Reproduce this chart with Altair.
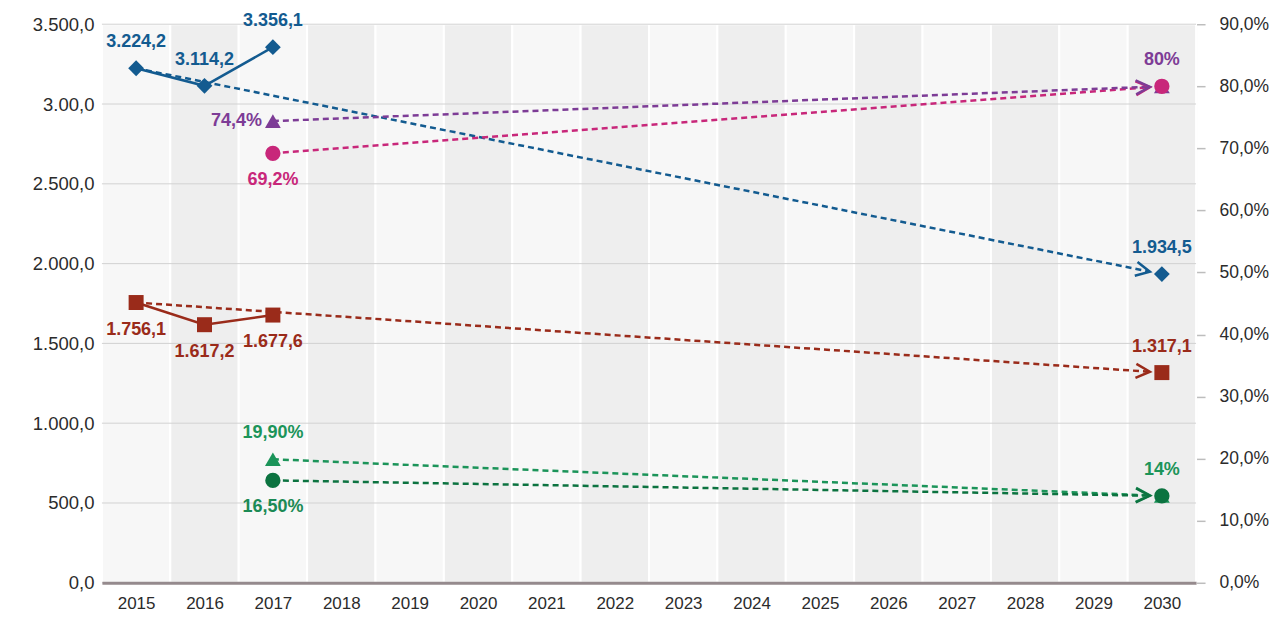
import math
import altair as alt
import pandas as pd

# ---------------- data ----------------
years = list(range(2015, 2031))
left_ticks = [0, 500, 1000, 1500, 2000, 2500, 3000, 3500]
right_ticks = [0.0, 0.1, 0.2, 0.3, 0.4, 0.5, 0.6, 0.7, 0.8, 0.9]

# left axis series (absolute values)
blue_years = [2015, 2016, 2017]
blue_values = [3224.2, 3114.2, 3356.1]
blue_labels = ["3.224,2", "3.114,2", "3.356,1"]
blue_target_year = 2030
blue_target_value = 1934.5
blue_target_label = "1.934,5"

red_years = [2015, 2016, 2017]
red_values = [1756.1, 1617.2, 1677.6]
red_labels = ["1.756,1", "1.617,2", "1.677,6"]
red_target_year = 2030
red_target_value = 1317.1
red_target_label = "1.317,1"

# right axis series (shares)
share_names = ["pink", "purple", "green_tri", "green_circ"]
share_start_year = [2017, 2017, 2017, 2017]
share_start_value = [0.692, 0.744, 0.199, 0.165]
share_start_label = ["69,2%", "74,4%", "19,90%", "16,50%"]
share_target_year = [2030, 2030, 2030, 2030]
share_target_value = [0.80, 0.80, 0.14, 0.14]
share_target_label = ["", "80%", "14%", ""]

# ---------------- styles ----------------
W, H = 1095, 559
LEFT_MAX, RIGHT_MAX = 3500, 0.9
FONT = "Liberation Sans"
AXIS_TEXT = "#2b2b2b"
COLOR = {
    "blue": "#135b90",
    "red": "#9a2b1a",
    "purple": "#7d3c96",
    "pink": "#c8277a",
    "green_tri": "#1b9459",
    "green_circ": "#0c7340",
}
LABEL_COLOR = {
    "blue": "#135b90",
    "red": "#9a2b1a",
    "purple": "#7d3c96",
    "pink": "#c8277a",
    "green_tri": "#1b9459",
    "green_circ": "#1b8a55",
}
SHAPE = {
    "blue": "diamond",
    "red": "square",
    "purple": "triangle-up",
    "pink": "circle",
    "green_tri": "triangle-up",
    "green_circ": "circle",
}
SIZE = {"diamond": 250, "square": 225, "triangle-up": 250, "circle": 235}
MARK_ORDER = {"diamond": 0, "square": 0, "triangle-up": 0, "circle": 1}
LABEL_POS_LEFT = {("blue", "a"): "above", ("blue", "t"): "above",
                  ("red", "a"): "below", ("red", "t"): "above"}
LABEL_POS_RIGHT = {("pink", "s"): "below", ("purple", "s"): "left",
                   ("green_tri", "s"): "above", ("green_circ", "s"): "below",
                   ("purple", "t"): "above", ("green_tri", "t"): "above"}
ARROW_BACK_PX = 12
PX_PER_YEAR = W / 16.0


def tip_and_angle(y0, v0, y1, v1, vmax):
    """arrow tip a little before the target, along the projection line"""
    back = ARROW_BACK_PX / PX_PER_YEAR
    slope = (v1 - v0) / (y1 - y0)
    tip_year = y1 - back
    tip_val = v1 - slope * back
    dx = (y1 - y0) * PX_PER_YEAR
    dy = -(v1 - v0) * H / vmax
    ang = math.degrees(math.atan2(dy, dx)) % 360
    return tip_year, tip_val, ang


# ---------------- frames ----------------
bands = pd.DataFrame({
    "x0": [y - 0.5 for y in years],
    "x1": [y + 0.5 for y in years],
    "fill": ["#f7f7f7" if i % 2 == 0 else "#eeeeee" for i in range(len(years))],
})
grid = pd.DataFrame({"v": left_ticks})

solid_left = pd.DataFrame(
    [{"s": "blue", "year": y, "v": v, "c": COLOR["blue"]} for y, v in zip(blue_years, blue_values)]
    + [{"s": "red", "year": y, "v": v, "c": COLOR["red"]} for y, v in zip(red_years, red_values)]
)

dash_left_rows, arrow_left_rows = [], []
for s, ys, vs, ty, tv in [("blue", blue_years, blue_values, blue_target_year, blue_target_value),
                          ("red", red_years, red_values, red_target_year, red_target_value)]:
    tyr, tvl, ang = tip_and_angle(ys[0], vs[0], ty, tv, LEFT_MAX)
    dash_left_rows += [{"s": s, "year": ys[0], "v": vs[0], "c": COLOR[s]},
                       {"s": s, "year": tyr, "v": tvl, "c": COLOR[s]}]
    arrow_left_rows.append({"s": s, "year": tyr, "v": tvl, "c": COLOR[s], "ang": ang})
dash_left = pd.DataFrame(dash_left_rows)
arrow_left = pd.DataFrame(arrow_left_rows)

pts_left_rows, lab_left_rows = [], []
for s, ys, vs, ls, ty, tv, tl in [("blue", blue_years, blue_values, blue_labels, blue_target_year, blue_target_value, blue_target_label),
                                  ("red", red_years, red_values, red_labels, red_target_year, red_target_value, red_target_label)]:
    for y, v, l in zip(ys, vs, ls):
        pts_left_rows.append({"s": s, "year": y, "v": v, "c": COLOR[s], "shape": SHAPE[s], "size": SIZE[SHAPE[s]]})
        lab_left_rows.append({"year": y, "v": v, "text": l, "c": LABEL_COLOR[s], "pos": LABEL_POS_LEFT[(s, "a")]})
    pts_left_rows.append({"s": s, "year": ty, "v": tv, "c": COLOR[s], "shape": SHAPE[s], "size": SIZE[SHAPE[s]]})
    lab_left_rows.append({"year": ty, "v": tv, "text": tl, "c": LABEL_COLOR[s], "pos": LABEL_POS_LEFT[(s, "t")]})
pts_left = pd.DataFrame(pts_left_rows)
lab_left = pd.DataFrame(lab_left_rows)

dash_right_rows, arrow_right_rows, pts_right_rows, lab_right_rows = [], [], [], []
for i, s in enumerate(share_names):
    y0, v0 = share_start_year[i], share_start_value[i]
    y1, v1 = share_target_year[i], share_target_value[i]
    tyr, tvl, ang = tip_and_angle(y0, v0, y1, v1, RIGHT_MAX)
    dash_right_rows += [{"s": s, "year": y0, "v": v0, "c": COLOR[s], "o": i},
                        {"s": s, "year": tyr, "v": tvl, "c": COLOR[s], "o": i}]
    arrow_right_rows.append({"s": s, "year": tyr, "v": tvl, "c": COLOR[s], "ang": ang, "o": i})
    for y, v in [(y0, v0), (y1, v1)]:
        pts_right_rows.append({"s": s, "year": y, "v": v, "c": COLOR[s], "shape": SHAPE[s],
                               "size": SIZE[SHAPE[s]], "o": MARK_ORDER[SHAPE[s]]})
    if share_start_label[i]:
        lab_right_rows.append({"year": y0, "v": v0, "text": share_start_label[i],
                               "c": LABEL_COLOR[s], "pos": LABEL_POS_RIGHT[(s, "s")]})
    if share_target_label[i]:
        lab_right_rows.append({"year": y1, "v": v1, "text": share_target_label[i],
                               "c": LABEL_COLOR[s], "pos": LABEL_POS_RIGHT[(s, "t")]})
dash_right = pd.DataFrame(dash_right_rows)
arrow_right = pd.DataFrame(arrow_right_rows)
pts_right = pd.DataFrame(pts_right_rows).sort_values("o")
lab_right = pd.DataFrame(lab_right_rows)

# ---------------- encodings ----------------
x_scale = alt.Scale(domain=[2014.5, 2030.5], nice=False, zero=False)
x_axis = alt.Axis(values=years, format="d", ticks=False, grid=False, title=None,
                  domainColor="#958a8d", domainWidth=3, labelPadding=13,
                  labelFontSize=17, zindex=1)


def X(field="year"):
    return alt.X(f"{field}:Q", scale=x_scale, axis=x_axis)


left_scale = alt.Scale(domain=[0, LEFT_MAX], nice=False, zero=True)
right_scale = alt.Scale(domain=[0, RIGHT_MAX], nice=False, zero=True)
left_axis = alt.Axis(values=left_ticks, ticks=False, domain=False, grid=False, title=None,
                     labelPadding=8, labelFontSize=18.5,
                     labelExpr="datum.value == 3000 ? '3.00,0' : replace(replace(replace(format(datum.value, ',.1f'), ',', '#'), '.', ','), '#', '.')")
right_axis = alt.Axis(orient="right", values=right_ticks, domain=False, grid=False, title=None,
                      ticks=True, tickColor="#bdbdbd", tickSize=9, tickWidth=1.5,
                      labelPadding=14, labelFontSize=17.5,
                      labelExpr="replace(format(datum.value * 100, '.1f'), '.', ',') + '%'")

YL = lambda: alt.Y("v:Q", scale=left_scale, axis=left_axis)
YR = lambda: alt.Y("v:Q", scale=right_scale, axis=right_axis)
C = alt.Color("c:N", scale=None)

ARROW_PATH = "M-2,-1L0,0L-2,1"


def label_layers(df, Y):
    layers = []
    spec = {"above": dict(dy=-26, align="center"),
            "below": dict(dy=27, align="center"),
            "left": dict(dx=-11, align="right")}
    for pos, kw in spec.items():
        sub = df[df["pos"] == pos]
        if len(sub) == 0:
            continue
        layers.append(
            alt.Chart(sub).mark_text(font=FONT, fontSize=18, fontWeight="bold",
                                     baseline="middle", **kw)
            .encode(x=X(), y=Y(), text="text:N", color=alt.Color("c:N", scale=None))
        )
    return layers


band_layer = alt.Chart(bands).mark_rect(stroke="white", strokeWidth=2).encode(
    x=alt.X("x0:Q", scale=x_scale, axis=x_axis), x2="x1:Q",
    fill=alt.Fill("fill:N", scale=None))
grid_layer = alt.Chart(grid).mark_rule(color="#d2d2d2", strokeWidth=1).encode(y=YL())

dash_l = alt.Chart(dash_left).mark_line(strokeDash=[6, 4], strokeWidth=2.5).encode(
    x=X(), y=YL(), color=C, detail="s:N")
solid_l = alt.Chart(solid_left).mark_line(strokeWidth=2.5).encode(
    x=X(), y=YL(), color=C, detail="s:N")
arrow_l = alt.Chart(arrow_left).mark_point(shape=ARROW_PATH, filled=False, size=196,
                                           strokeWidth=2.5, opacity=1).encode(
    x=X(), y=YL(), color=C, angle=alt.Angle("ang:Q", scale=None))
pts_l = alt.Chart(pts_left).mark_point(filled=True, opacity=1, strokeWidth=0).encode(
    x=X(), y=YL(), color=C, shape=alt.Shape("shape:N", scale=None),
    size=alt.Size("size:Q", scale=None))

left_group = alt.layer(band_layer, grid_layer, dash_l, solid_l, arrow_l, pts_l,
                       *label_layers(lab_left, YL))

dash_r = alt.Chart(dash_right).mark_line(strokeDash=[6, 4], strokeWidth=2.5).encode(
    x=X(), y=YR(), color=C, detail="s:N")
arrow_r = alt.Chart(arrow_right).mark_point(shape=ARROW_PATH, filled=False, size=196,
                                            strokeWidth=2.5, opacity=1).encode(
    x=X(), y=YR(), color=C, angle=alt.Angle("ang:Q", scale=None))
pts_r = alt.Chart(pts_right).mark_point(filled=True, opacity=1, strokeWidth=0).encode(
    x=X(), y=YR(), color=C, shape=alt.Shape("shape:N", scale=None),
    size=alt.Size("size:Q", scale=None), order=alt.Order("o:Q"))

right_group = alt.layer(dash_r, arrow_r, pts_r, *label_layers(lab_right, YR))

chart = (
    alt.layer(left_group, right_group)
    .resolve_scale(y="independent")
    .properties(width=W, height=H,
                autosize=alt.AutoSizeParams(type="none"),
                padding={"left": 94, "top": 16, "right": 73, "bottom": 33})
    .configure_view(stroke=None)
    .configure(background="white")
    .configure_axis(labelFont=FONT, labelColor=AXIS_TEXT)
    .configure_axisX(labelFontSize=17)
    .configure_axisBottom(labelFontSize=17)
    .configure_axisLeft(labelFontSize=18.5)
    .configure_axisRight(labelFontSize=17.5)
)

chart.save("out.html", embed_options={"renderer": "svg", "actions": False})
